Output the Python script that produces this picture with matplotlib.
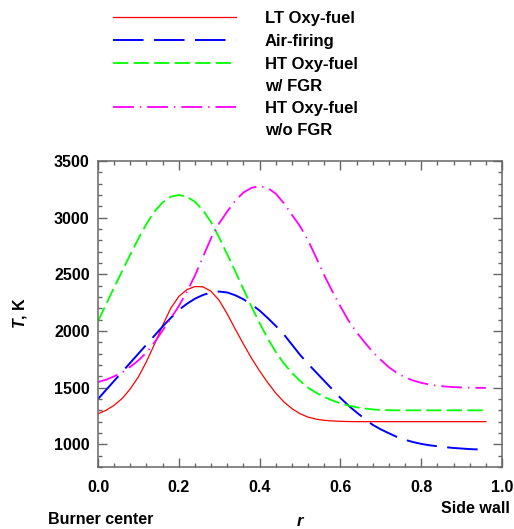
import matplotlib
matplotlib.use("Agg")
import matplotlib.pyplot as plt
from matplotlib.lines import Line2D
from matplotlib.ticker import MultipleLocator

plt.rcParams['font.family'] = ['Liberation Sans', 'DejaVu Sans']
plt.rcParams['font.weight'] = 'bold'
plt.rcParams['mathtext.fontset'] = 'custom'
plt.rcParams['mathtext.it'] = 'Liberation Sans:italic:bold'
plt.rcParams['mathtext.rm'] = 'Liberation Sans:bold'
plt.rcParams['lines.scale_dashes'] = False

# ---- data ----
r = [0.00, 0.02, 0.04, 0.06, 0.08, 0.10, 0.12, 0.14, 0.16, 0.18,
     0.20, 0.22, 0.24, 0.26, 0.28, 0.30, 0.32, 0.34, 0.36, 0.38,
     0.40, 0.42, 0.44, 0.46, 0.48, 0.50, 0.52, 0.54, 0.56, 0.58,
     0.60, 0.62, 0.64, 0.66, 0.68, 0.70, 0.72, 0.74, 0.76, 0.78,
     0.80, 0.82, 0.84, 0.86, 0.88, 0.90, 0.92, 0.94, 0.96]

lt_oxy = [1270, 1300, 1345, 1405, 1490, 1595, 1730, 1885, 2050, 2200,
          2305, 2365, 2392, 2390, 2350, 2270, 2150, 2015, 1885, 1760,
          1648, 1545, 1452, 1375, 1315, 1270, 1240, 1222, 1212, 1206,
          1203, 1201, 1200, 1200, 1200, 1200, 1200, 1200, 1200, 1200,
          1200, 1200, 1200, 1200, 1200, 1200, 1200, 1200, 1200]

air = [1400, 1480, 1560, 1640, 1720, 1800, 1880, 1960, 2040, 2115,
       2185, 2240, 2285, 2318, 2340, 2348, 2340, 2315, 2280, 2235,
       2180, 2115, 2045, 1970, 1880, 1790, 1710, 1635, 1560, 1485,
       1410, 1342, 1282, 1225, 1172, 1132, 1098, 1065, 1040, 1020,
       1004, 992, 983, 975, 968, 963, 958, 955, 953]

ht_fgr = [2085, 2235, 2385, 2530, 2675, 2815, 2945, 3055, 3135, 3185,
          3200, 3185, 3140, 3065, 2960, 2825, 2675, 2525, 2370, 2215,
          2070, 1935, 1815, 1715, 1630, 1560, 1500, 1455, 1418, 1387,
          1362, 1342, 1327, 1316, 1308, 1303, 1301, 1300, 1300, 1300,
          1300, 1300, 1300, 1300, 1300, 1300, 1300, 1300, 1300]

ht_nofgr = [1550, 1570, 1600, 1635, 1685, 1740, 1810, 1900, 2005, 2110,
            2220, 2345, 2490, 2655, 2820, 2950, 3055, 3150, 3222, 3263,
            3278, 3262, 3212, 3128, 3025, 2925, 2800, 2648, 2492, 2350,
            2218, 2092, 1990, 1900, 1815, 1745, 1680, 1630, 1592, 1563,
            1543, 1528, 1517, 1510, 1505, 1502, 1500, 1499, 1498]

labels = ['LT Oxy-fuel', 'Air-firing', 'HT Oxy-fuel\nw/ FGR', 'HT Oxy-fuel\nw/o FGR']
xticks = [0.0, 0.2, 0.4, 0.6, 0.8, 1.0]
yticks = [1000, 1500, 2000, 2500, 3000, 3500]

# ---- styles ----
styles = [
    dict(color='#ff0000', lw=0.9, dashes=()),
    dict(color='#0000ff', lw=1.4, dashes=(22, 7.5)),
    dict(color='#00ff00', lw=1.3, dashes=(11, 3.8)),
    dict(color='#ff00ff', lw=1.3, dashes=(15, 4.3, 1, 4.3)),
]
series = [lt_oxy, air, ht_fgr, ht_nofgr]

W, H = 514, 529
fig = plt.figure(figsize=(W / 100, H / 100), dpi=100)
ax = fig.add_axes([98 / W, 1 - 467 / H, 404 / W, 306 / H])

for ys, st in zip(series, styles):
    ln, = ax.plot(r, ys, color=st['color'], lw=st['lw'],
                  solid_joinstyle='round', dash_joinstyle='round')
    if st['dashes']:
        ln.set_dashes(st['dashes'])

ax.set_xlim(0, 1.0)
ax.set_ylim(800, 3500)
ax.set_xticks(xticks)
ax.set_xticklabels([f'{v:.1f}' for v in xticks])
ax.set_yticks(yticks)
ax.set_yticklabels([str(v) for v in yticks])
ax.xaxis.set_minor_locator(MultipleLocator(0.04))
ax.yaxis.set_minor_locator(MultipleLocator(100))

gray = '#666666'
for sp in ax.spines.values():
    sp.set_color(gray)
    sp.set_linewidth(1.1)
ax.tick_params(which='both', direction='in', top=True, right=True, color=gray, width=1.0)
ax.tick_params(which='major', length=6.5, labelsize=11.5)
ax.tick_params(axis='x', which='major', pad=9)
ax.tick_params(axis='y', which='major', pad=6)
ax.tick_params(which='minor', length=3)

# axis texts
fig.text(20 / W, 1 - 313 / H, r'$\mathit{T}$, K', rotation=90, ha='center', va='center',
         fontsize=11.5, fontweight='bold')
fig.text(300 / W, 1 - 528.5 / H, 'r', ha='center', va='bottom', fontsize=12,
         fontstyle='italic', fontweight='bold')
fig.text(48 / W, 1 - 524 / H, 'Burner center', ha='left', va='baseline', fontsize=11.5,
         fontweight='bold')
fig.text(510 / W, 1 - 513 / H, 'Side wall', ha='right', va='baseline', fontsize=11.5,
         fontweight='bold')

# legend (manual)
leg_y = [17, 40, 63, 107]
for lab, st, yy in zip(labels, styles, leg_y):
    ln = Line2D([113 / W, 236 / W], [1 - yy / H, 1 - yy / H], transform=fig.transFigure,
                color=st['color'], lw=st['lw'])
    if st['dashes']:
        ln.set_dashes(st['dashes'])
    fig.add_artist(ln)
    for k, part in enumerate(lab.split('\n')):
        fig.text(265 / W, 1 - (yy + 6 + 22 * k) / H, part, ha='left', va='baseline',
                 fontsize=12, fontweight='bold')

fig.savefig('out.png', dpi=100)
